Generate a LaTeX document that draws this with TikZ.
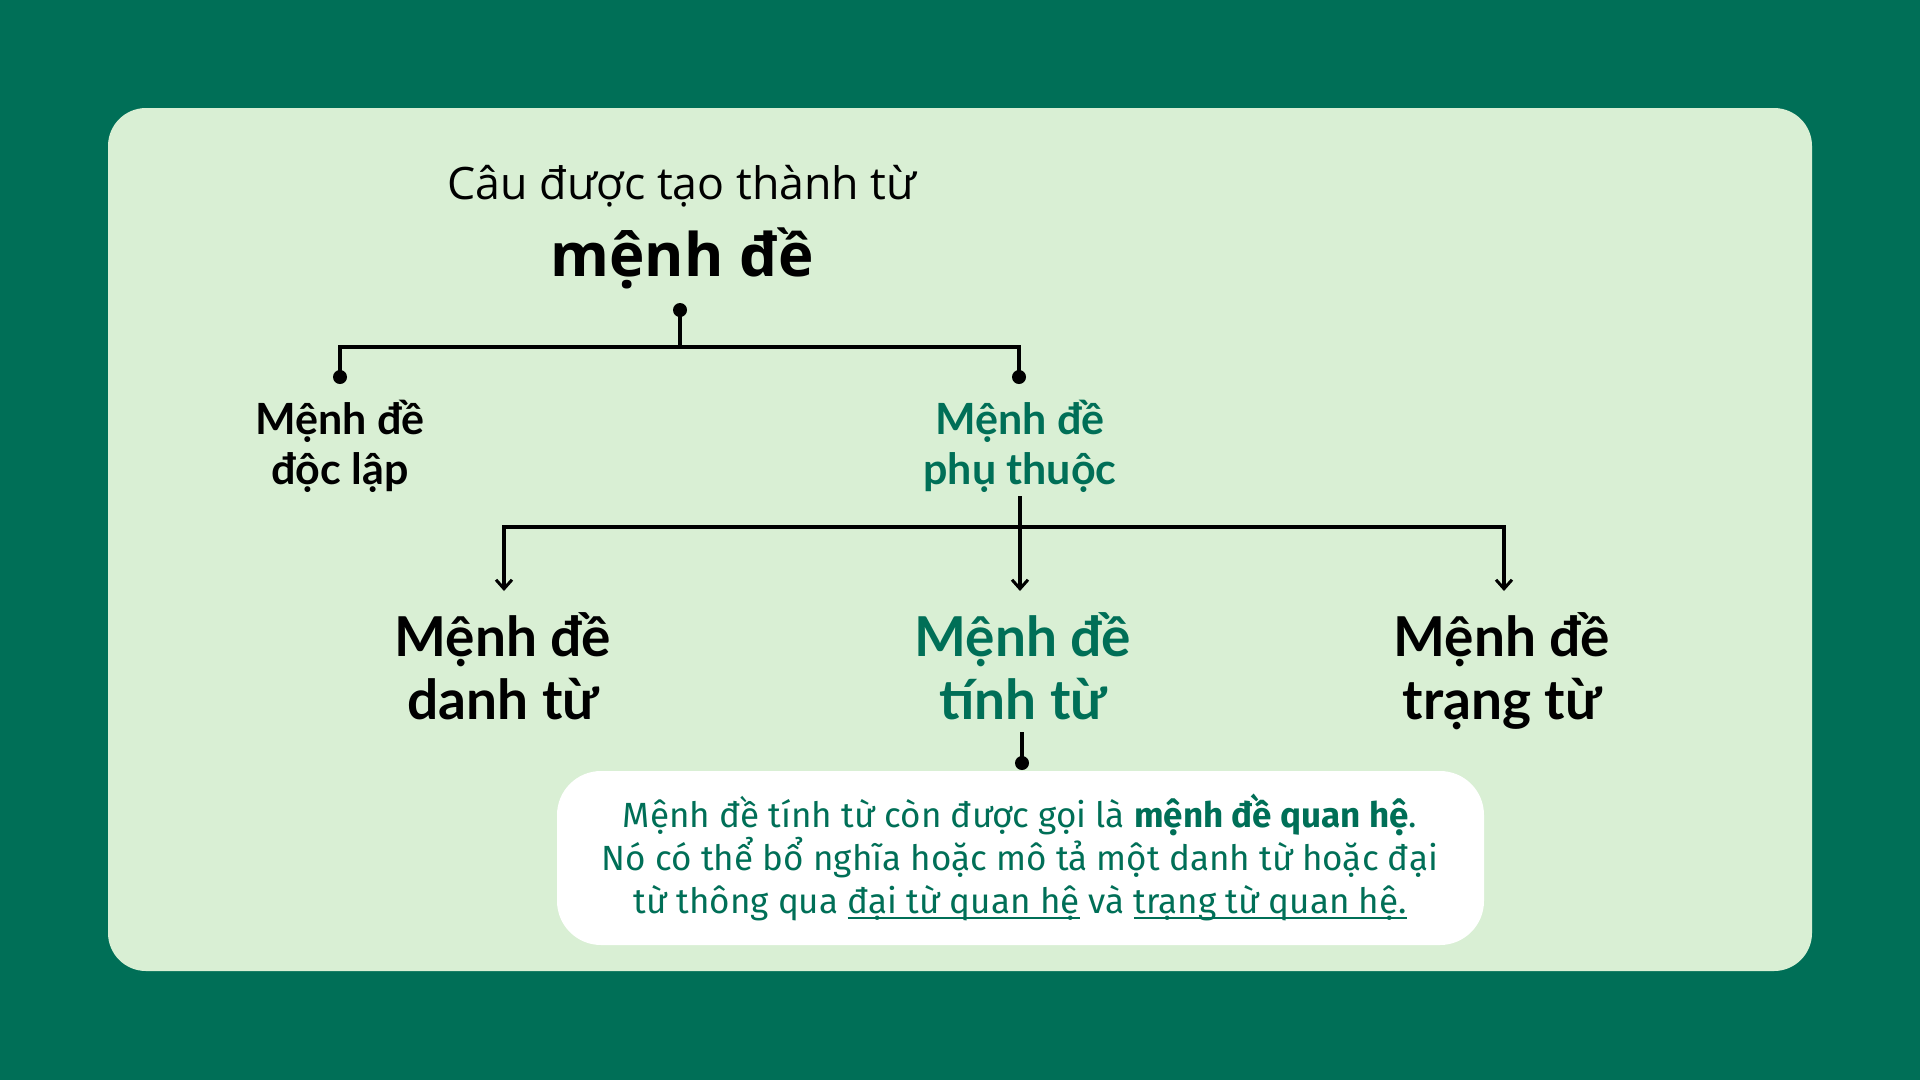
\documentclass[tikz,border=0pt]{standalone}
\usepackage{fontspec}
\setmainfont{Open Sans}
\newfontfamily\titlefont{Open Sans}
\newfontfamily\labelfont{Lato}
\newfontfamily\notefont{Fira Sans}
\usepackage{tikz}
\usetikzlibrary{arrows.meta}
\usetikzlibrary{positioning}
\definecolor{deepgreen}{HTML}{006F57}
\definecolor{mintpanel}{HTML}{D9EFD4}
\newsavebox{\ulinebox}
\newcommand{\ulinetext}[1]{\sbox{\ulinebox}{#1}\rlap{\rule[-5.5pt]{\wd\ulinebox}{1.8pt}}\usebox{\ulinebox}}

\begin{document}
\begin{tikzpicture}
[
	x = 1pt, y = -1pt,
	dot/.style	= {circle, fill = black, minimum size = 14pt, inner sep = 0pt},
	small/.style	= {align = center, inner sep = 0pt, execute at end node = \strut, font = \labelfont\bfseries\fontsize{43}{50}\selectfont},
	big/.style	= {align = center, inner sep = 0pt, execute at end node = \strut, font = \labelfont\bfseries\fontsize{55}{63}\selectfont},
	note/.style	= {align = center, inner sep = 0pt, text = deepgreen, font = \notefont\fontsize{35}{43}\selectfont},
	link/.style	= {line width = 3.4pt},
	arrow/.style	= {link, -{Straight Barb[length = 9pt, width = 16pt, line width = 3pt]}},
]

	% background and panel
	\fill [deepgreen] (0,0) rectangle (1920,1080);
	\useasboundingbox (0,0) rectangle (1920,1080);
	\fill [mintpanel, rounded corners = 38pt] (108,108) rectangle (1812,971);
	\fill [white, rounded corners = 44pt] (557,771) rectangle (1484,945);

	% heading
	\node (title) [inner sep = 0pt, font = \titlefont\fontsize{44.7}{52}\selectfont] at (682,186.5) {Câu được tạo thành từ};
	\node (main) [inner sep = 0pt, font = \titlefont\bfseries\fontsize{60}{70}\selectfont] at (682,258.5) {mệnh đề};

	% first level
	\node (rootdot) [dot] at (680,310) {};
	\coordinate (fork1) at (680,347);
	\node (ldot) [dot] at (340,377) {};
	\node (rdot) [dot] at (1019,377) {};
	%
	\node (doclap) [small] at (340,450) {Mệnh đề\\độc lập};
	\node (phuthuoc) [small, text = deepgreen] at (1020,450) {Mệnh đề\\phụ thuộc};

	\draw [link] (rootdot.center) -- (fork1) -| (ldot.center);
	\draw [link] (fork1) -| (rdot.center);

	% second level
	\coordinate (phubase) at (1020,496);
	\coordinate (fork2) at (1020,527);
	\coordinate (danhtip) at (504,591);
	\coordinate (tinhtip) at (1020,591);
	\coordinate (trangtip) at (1504,591);
	%
	\node (danhtu) [big] at (503,675.5) {Mệnh đề\\danh từ};
	\node (tinhtu) [big, text = deepgreen] at (1023,675.5) {Mệnh đề\\tính từ};
	\node (trangtu) [big] at (1502,675.5) {Mệnh đề\\trạng từ};

	\draw [arrow] (fork2) -| (danhtip);
	\draw [arrow] (fork2) -| (trangtip);
	\draw [arrow] (phubase) -- (tinhtip);

	% note
	\coordinate (tinhbase) at (1022,732);
	\node (notedot) [dot] at (1022,763) {};
	\draw [link] (tinhbase) -- (notedot.center);

	\node (notetext) [note] at (1020,857) {Mệnh đề tính từ còn được gọi là \textbf{mệnh đề quan hệ}.\\Nó có thể bổ nghĩa hoặc mô tả một danh từ hoặc đại\\từ thông qua \ulinetext{đại từ quan hệ} và \ulinetext{trạng từ quan hệ.}};

\end{tikzpicture}
\end{document}
